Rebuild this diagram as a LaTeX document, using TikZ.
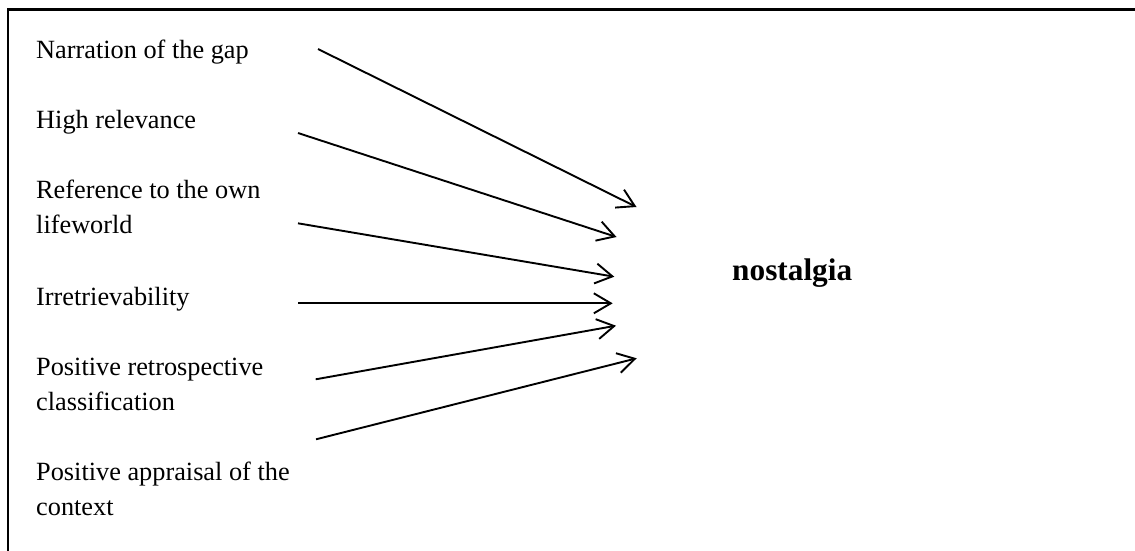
\documentclass[tikz,border=0pt]{standalone}
\usepackage{fontspec}
\setmainfont{Liberation Serif}
\usetikzlibrary{arrows.meta}
\begin{document}
\begin{tikzpicture}[x=1pt,y=-1pt,
  factor/.style={anchor=base west, inner sep=0pt, align=left, font=\fontsize{26.3}{35}\selectfont},
  target/.style={anchor=base west, inner sep=0pt, font=\fontsize{31.3}{36}\selectfont\bfseries},
  link/.style={line width=1.9pt, -{Straight Barb[length=17pt,width=20pt,line width=1.9pt]}},
  frame/.style={line width=2.2pt}]
\useasboundingbox (0,0) rectangle (1135,550);
\draw[frame] (8.3,552) -- (8.3,9.5) -- (1137,9.5);
% base anchor of a multi-line node sits on its last line
\node[factor] (n1) at (36,58.3) {Narration of the gap};
\node[factor] (n2) at (36,128.3) {High relevance};
\node[factor] (n3) at (36,233.3) {Reference to the own\\lifeworld};
\node[factor] (n4) at (36,305) {Irretrievability};
\node[factor] (n5) at (36,410) {Positive retrospective\\classification};
\node[factor] (n6) at (36,515.7) {Positive appraisal of the\\context};
\node[target] (nost) at (732,280) {nostalgia};
\coordinate (s1) at (318,49);    \coordinate (e1) at (636.5,207);
\coordinate (s2) at (298,133);   \coordinate (e2) at (616.5,237);
\coordinate (s3) at (298,223.3); \coordinate (e3) at (614.3,276.7);
\coordinate (s4) at (298,303.3); \coordinate (e4) at (612.7,303.3);
\coordinate (s5) at (315.7,379.3); \coordinate (e5) at (616,325.7);
\coordinate (s6) at (316,439.3); \coordinate (e6) at (636.7,358.3);
\foreach \i in {1,...,6} \draw[link] (s\i) -- (e\i);
\end{tikzpicture}
\end{document}
